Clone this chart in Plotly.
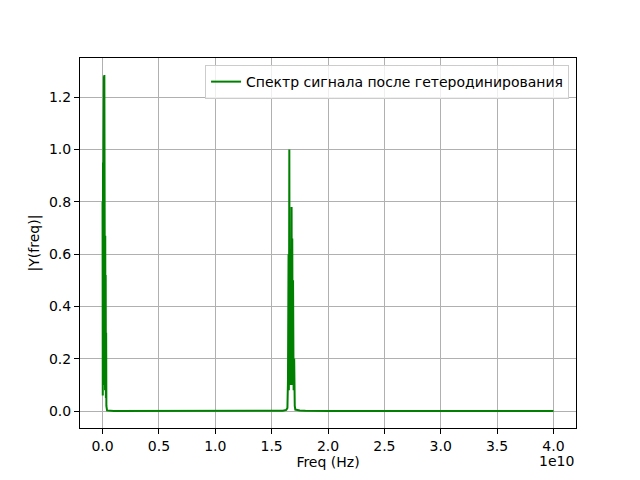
import plotly.graph_objects as go

# Frequency (Hz) and spectrum magnitude
freq_hz = [
    0.000e10, 0.002e10, 0.004e10, 0.006e10, 0.008e10, 0.010e10, 0.012e10, 0.014e10,
    0.016e10, 0.018e10, 0.020e10, 0.022e10, 0.024e10, 0.026e10, 0.028e10, 0.030e10,
    0.032e10, 0.034e10, 0.040e10, 0.100e10, 0.500e10, 1.000e10, 1.500e10, 1.600e10,
    1.630e10, 1.640e10, 1.645e10, 1.650e10, 1.653e10, 1.657e10, 1.660e10, 1.663e10,
    1.667e10, 1.670e10, 1.673e10, 1.677e10, 1.680e10, 1.683e10, 1.687e10, 1.690e10,
    1.695e10, 1.700e10, 1.705e10, 1.710e10, 1.750e10, 1.800e10, 2.000e10, 2.500e10,
    3.000e10, 3.500e10, 4.000e10,
]
magnitude = [
    0.80, 0.06, 0.95, 0.10, 1.00, 0.30, 1.28, 0.15,
    1.285, 0.40, 1.10, 0.08, 0.67, 0.10, 0.52, 0.05,
    0.30, 0.02, 0.003, 0.001, 0.001, 0.001, 0.001, 0.002,
    0.005, 0.012, 0.12, 0.60, 0.08, 1.00, 0.10, 0.62,
    0.15, 0.66, 0.10, 0.78, 0.15, 0.66, 0.10, 0.50,
    0.08, 0.20, 0.02, 0.006, 0.003, 0.002, 0.001, 0.001,
    0.0005, 0.0003, 0.0002,
]

series_name = "Спектр сигнала после гетеродинирования"
x_tick_vals = [0.0, 0.5e10, 1.0e10, 1.5e10, 2.0e10, 2.5e10, 3.0e10, 3.5e10, 4.0e10]
x_tick_text = ["0.0", "0.5", "1.0", "1.5", "2.0", "2.5", "3.0", "3.5", "4.0"]
y_tick_vals = [0.0, 0.2, 0.4, 0.6, 0.8, 1.0, 1.2]
y_tick_text = ["0.0", "0.2", "0.4", "0.6", "0.8", "1.0", "1.2"]
x_label = "Freq (Hz)"
y_label = "|Y(freq)|"
offset_text = "1e10"

FONT = "DejaVu Sans"
FS = 14

fig = go.Figure()
fig.add_trace(go.Scatter(
    x=freq_hz, y=magnitude, mode="lines", name=series_name,
    line=dict(color="green", width=2),
))

axis_common = dict(
    showline=True, linecolor="black", linewidth=1, mirror=True,
    ticks="outside", ticklen=5, tickcolor="black", tickwidth=1,
    showgrid=True, gridcolor="#b0b0b0", gridwidth=1, zeroline=False,
    tickfont=dict(family=FONT, size=FS, color="black"),
)

fig.update_layout(
    width=640, height=480,
    margin=dict(l=80, r=64, t=58, b=52),
    paper_bgcolor="white", plot_bgcolor="white",
    font=dict(family=FONT, size=FS, color="black"),
    showlegend=True,
    legend=dict(
        x=0.986, y=0.981, xanchor="right", yanchor="top",
        bgcolor="rgba(255,255,255,0.8)", bordercolor="#cccccc", borderwidth=1,
        font=dict(family=FONT, size=FS, color="black"),
    ),
    xaxis=dict(
        range=[-0.2e10, 4.2e10],
        tickvals=x_tick_vals, ticktext=x_tick_text,
        title=dict(text=x_label, standoff=4, font=dict(family=FONT, size=FS)),
        **axis_common,
    ),
    yaxis=dict(
        range=[-0.0643, 1.3495],
        tickvals=y_tick_vals, ticktext=y_tick_text,
        title=dict(text=y_label, standoff=6, font=dict(family=FONT, size=FS)),
        **axis_common,
    ),
)

fig.add_annotation(
    text=offset_text, xref="paper", yref="paper", x=1.0, y=-0.089,
    xanchor="right", yanchor="middle", showarrow=False,
    font=dict(family=FONT, size=FS, color="black"),
)

fig.write_html(
    "out.html",
    config={"displayModeBar": False},
    post_script="document.body.style.margin='0';",
)
